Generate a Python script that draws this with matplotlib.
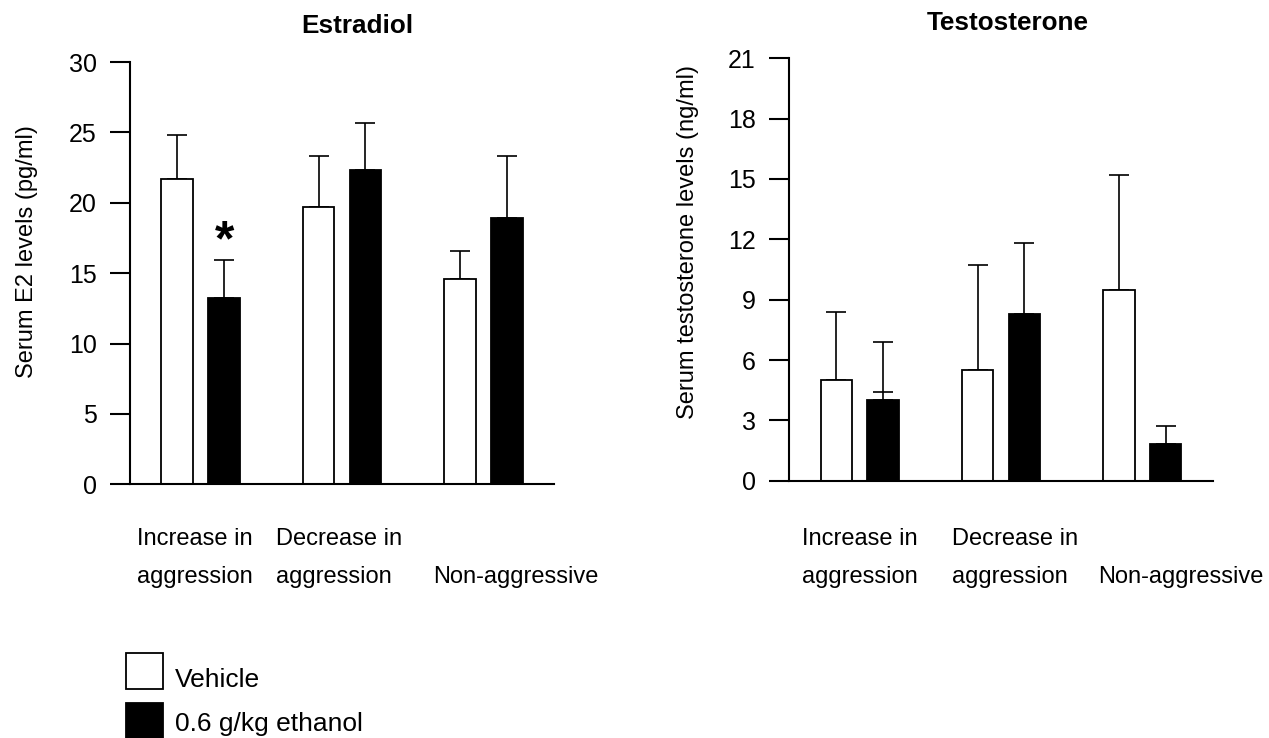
import matplotlib
matplotlib.use("Agg")
import matplotlib.pyplot as plt
from matplotlib.patches import Rectangle
import numpy as np

plt.rcParams['font.family'] = ['Liberation Sans', 'DejaVu Sans']

# ---------------- data ----------------
categories = ["Increase in\naggression", "Decrease in\naggression", "Non-aggressive"]
series_names = ["Vehicle", "0.6 g/kg ethanol"]

e2_vehicle = [21.7, 19.7, 14.6]
e2_vehicle_sem = [3.1, 3.6, 2.0]
e2_ethanol = [13.2, 22.3, 18.9]
e2_ethanol_sem = [2.7, 3.4, 4.4]

t_vehicle = [5.0, 5.5, 9.5]
t_vehicle_sem = [3.4, 5.2, 5.7]
t_ethanol = [4.0, 8.3, 1.8]
t_ethanol_sem = [2.9, 3.5, 0.9]
t_ethanol_extra_cap = [4.4, None, None]   # stray cap line visible in the original

e2_ticks = [0, 5, 10, 15, 20, 25, 30]
t_ticks = [0, 3, 6, 9, 12, 15, 18, 21]
e2_significance_ethanol = ["*", "", ""]

# ---------------- figure ----------------
W, H = 1269, 738
fig = plt.figure(figsize=(W / 100, H / 100), dpi=100)
fig.patch.set_facecolor("white")

ax1 = fig.add_axes([130 / W, 1 - 484.3 / H, 424 / W, 422.3 / H])
ax2 = fig.add_axes([789.3 / W, 1 - 480.7 / H, 423.4 / W, 422.4 / H])

x = np.arange(len(categories))
width = 0.225
off = 0.166


def draw_panel(ax, veh, veh_sem, eth, eth_sem, ticks, ylabel, title, title_x, title_y,
               ylab_xy, label_left, row_y):
    ax.bar(x - off, veh, width, color="white", edgecolor="black", linewidth=1.3, zorder=2)
    ax.bar(x + off, eth, width, color="black", edgecolor="black", linewidth=1.3, zorder=2)
    ax.errorbar(x - off, veh, yerr=[np.zeros(len(veh)), veh_sem], fmt="none",
                ecolor="black", elinewidth=1.2, capsize=7.2, capthick=1.2, zorder=1)
    ax.errorbar(x + off, eth, yerr=[np.zeros(len(eth)), eth_sem], fmt="none",
                ecolor="black", elinewidth=1.2, capsize=7.2, capthick=1.2, zorder=1)
    ax.set_xlim(-0.5, 2.5)
    ax.set_ylim(ticks[0], ticks[-1])
    ax.set_yticks(ticks)
    ax.set_xticks([])
    for s in ["top", "right"]:
        ax.spines[s].set_visible(False)
    for s in ["left", "bottom"]:
        ax.spines[s].set_linewidth(1.5)
    ax.tick_params(axis="y", direction="out", length=14.4, width=1.5, pad=9.6,
                   labelsize=18)
    ax.text(ylab_xy[0], ylab_xy[1], ylabel, transform=ax.transAxes, rotation=90,
            ha="center", va="center", fontsize=17)
    ax.text(title_x, title_y, title, transform=ax.transAxes, ha="center",
            va="baseline", fontsize=18.8, fontweight="bold")
    tr = ax.get_xaxis_transform()
    for xl, cat in zip(label_left, categories):
        lines = cat.split("\n")
        rows = row_y if len(lines) == 2 else row_y[1:]
        for ln, yy in zip(lines, rows):
            ax.text(xl, yy, ln, transform=tr, ha="left", va="baseline", fontsize=17,
                    clip_on=False)


draw_panel(ax1, e2_vehicle, e2_vehicle_sem, e2_ethanol, e2_ethanol_sem, e2_ticks,
           "Serum E2 levels (pg/ml)", "Estradiol", 0.535, 1.0687, (-0.243, 0.55),
           [-0.4526, 0.533, 1.646], [-0.1437, -0.2337])
draw_panel(ax2, t_vehicle, t_vehicle_sem, t_ethanol, t_ethanol_sem, t_ticks,
           "Serum testosterone levels (ng/ml)", "Testosterone", 0.5165, 1.067,
           (-0.239, 0.566), [-0.412, 0.6507, 1.689], [-0.1522, -0.2422])

# significance asterisk above the ethanol bar
for i, s in enumerate(e2_significance_ethanol):
    if s:
        ax1.text(x[i] + off, e2_ethanol[i] + e2_ethanol_sem[i] + 1.3, s, ha="center",
                 va="center", fontsize=36, fontweight="bold")

# stray cap line
for i, v in enumerate(t_ethanol_extra_cap):
    if v is not None:
        ax2.hlines(v, x[i] + off - 0.07, x[i] + off + 0.07, color="black", linewidth=1.2,
                   zorder=3)

# legend (drawn in figure pixel coordinates)
legend_faces = ["white", "black"]
legend_box_top = [652.7, 702.7]
legend_baseline = [687, 731]
for name, fc, top, base in zip(series_names, legend_faces, legend_box_top, legend_baseline):
    fig.patches.append(Rectangle((126 / W, 1 - (top + 36.6) / H), 37 / W, 36.6 / H,
                                 facecolor=fc, edgecolor="black", linewidth=1.3,
                                 transform=fig.transFigure, figure=fig))
    fig.text(175 / W, 1 - base / H, name, ha="left", va="baseline", fontsize=19)

fig.savefig("out.png", dpi=100, facecolor="white")
